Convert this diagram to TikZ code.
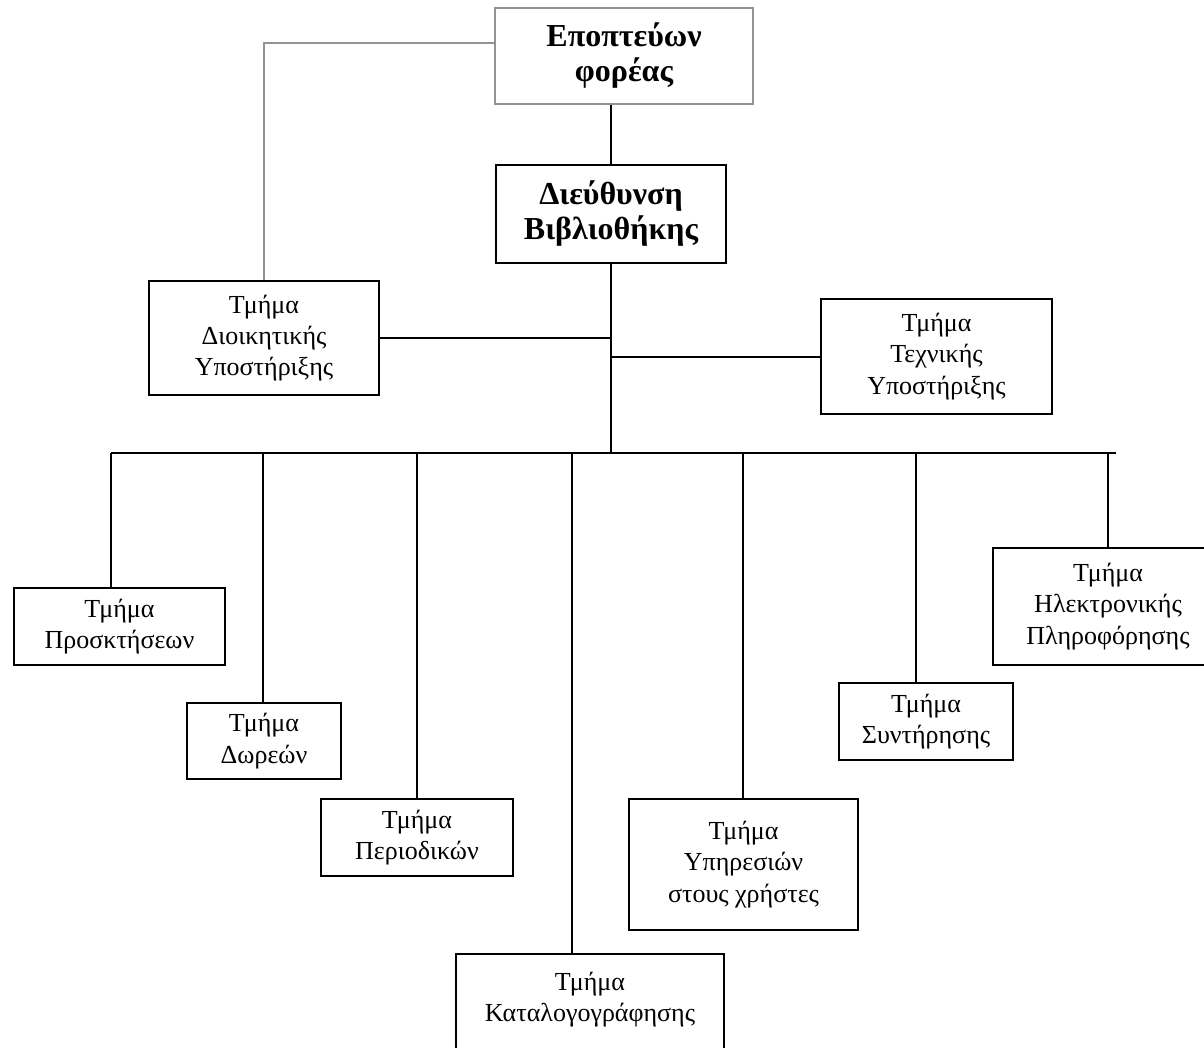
\documentclass[tikz,border=0pt]{standalone}
\usepackage{fontspec}
\setmainfont{Liberation Serif}
\usetikzlibrary{positioning}
\tikzset{
	tmima/.style={draw, line width=1pt, align=center, inner sep=0pt, font=\fontsize{13}{15.6}\selectfont},
	dieuth/.style={tmima, font=\fontsize{16}{17.5}\selectfont\bfseries},
	grammi/.style={line width=1pt},
	gkri/.style={draw=gray!85, line width=0.8pt}
}

\begin{document}
\begin{tikzpicture}[x=0.5pt,y=-0.5pt]
			\useasboundingbox (0,0) rectangle (1204,1048);
			% top levels
			\node[dieuth, draw=gray!85, minimum width=129pt, minimum height=48pt] (epopt) at (624,56) {Εποπτεύων\\φορέας};
			\node[dieuth, minimum width=115pt, minimum height=49pt] (dieu) at (611,214) {Διεύθυνση\\Βιβλιοθήκης};
			\node[tmima, minimum width=115pt, minimum height=57pt] (dioik) at (264,338) {Τμήμα\\Διοικητικής\\Υποστήριξης};
			\node[tmima, minimum width=115.5pt, minimum height=57.5pt] (tech) at (936.5,356.5) {Τμήμα\\Τεχνικής\\Υποστήριξης};
			% departments
			\node[tmima, minimum width=105.5pt, minimum height=38.5pt] (prosk) at (119.5,626.5) {Τμήμα\\Προσκτήσεων};
			\node[tmima, minimum width=77pt, minimum height=38pt] (dor) at (264,741) {Τμήμα\\Δωρεών};
			\node[tmima, minimum width=96pt, minimum height=38.5pt] (period) at (417,837.5) {Τμήμα\\Περιοδικών};
			\node[tmima, minimum width=134pt, inner ysep=9pt, text depth=50pt, anchor=north] (katal) at (590,953) {Τμήμα\\Καταλογογράφησης};
			\node[tmima, minimum width=114.5pt, minimum height=65.5pt] (serv) at (743.5,864.5) {Τμήμα\\Υπηρεσιών\\στους χρήστες};
			\node[tmima, minimum width=87pt, minimum height=38.5pt] (synt) at (926,721.5) {Τμήμα\\Συντήρησης};
			\node[tmima, minimum width=115pt, minimum height=58.5pt] (elec) at (1108,606.5) {Τμήμα\\Ηλεκτρονικής\\Πληροφόρησης};
			% connectors
			\draw[gkri] ([yshift=6.5pt]epopt.west) -| (dioik.north);
			\draw[grammi] (dieu.north) -- (dieu.north |- epopt.south);
			\coordinate (kormos) at (611,453);
			\draw[grammi] (dieu.south) -- (kormos);
			\draw[grammi] (dioik.east) -- (dioik.east -| kormos);
			\draw[grammi] (tech.west) -- (tech.west -| kormos);
			\draw[grammi] (111,453) coordinate (arxi) -- (1116,453) coordinate (telos);
			\foreach \x/\n in {111/prosk,263/dor,417/period,572/katal,743/serv,916/synt,1108/elec}
				\draw[grammi] (\x,453) coordinate (b\n) -- (b\n |- \n.north);
	\end{tikzpicture}
\end{document}
